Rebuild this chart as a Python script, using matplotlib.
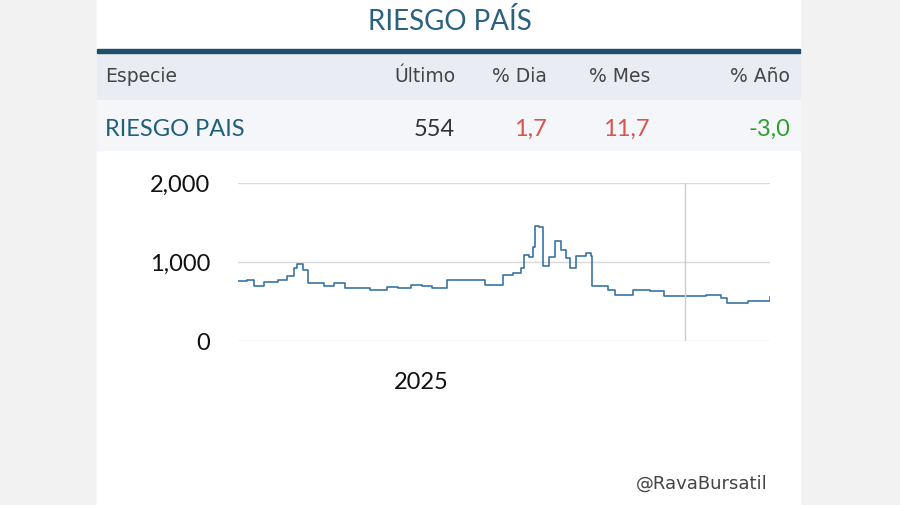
import matplotlib.pyplot as plt
import matplotlib.dates as mdates
import pandas as pd

plt.rcParams['font.family'] = ['Lato', 'DejaVu Sans']

# days counted from 2025-01-01
days = [-254, -242, -232, -218, -198, -186, -177, -172, -164, -157,
        -135, -121, -106, -72, -58, -48, -33, -14, 1, 15,
        35, 83, 88, 108, 112, 127, 137, 142, 149, 154,
        157, 163, 168, 176, 185, 193, 200, 205, 214, 227,
        234, 236, 258, 268, 292, 316, 336, 365, 394, 414,
        423, 452, 482]
values = [756, 777, 693, 743, 769, 828, 924, 975, 903, 735,
          693, 735, 672, 643, 643, 685, 672, 706, 702, 672,
          769, 769, 714, 714, 840, 861, 924, 1092, 1063, 1189,
          1450, 1441, 945, 1063, 1260, 1155, 1050, 924, 1071, 1113,
          1080, 693, 643, 588, 651, 630, 567, 567, 580, 546,
          483, 504, 555]

columns = ["Especie", "Último", "% Dia", "% Mes", "% Año"]
row = ["RIESGO PAIS", "554", "1,7", "11,7", "-3,0"]
row_colors = ["#1f5f7a", "#333333", "#d9534f", "#d9534f", "#2e9e2e"]

fig = plt.figure(figsize=(9, 5.05), dpi=100, facecolor="#f2f2f2")
W, H = 900, 505

def fx(px):
    return px / W

def fy(py):
    return 1 - py / H

# white card and table header
fig.patches.append(plt.Rectangle((fx(97), 0), fx(703), 1, transform=fig.transFigure,
                                 color="white", zorder=-3))
fig.patches.append(plt.Rectangle((fx(97), fy(100)), fx(703), 48 / H, transform=fig.transFigure,
                                 color="#e9edf3", zorder=-2))
fig.patches.append(plt.Rectangle((fx(97), fy(150)), fx(703), 50 / H, transform=fig.transFigure,
                                 color="#f4f6f9", zorder=-2))
fig.patches.append(plt.Rectangle((fx(97), fy(53)), fx(703), 4 / H, transform=fig.transFigure,
                                 color="#1d4e6b", zorder=-1))

fig.text(0.5, fy(21), "RIESGO PAÍS", ha="center", va="center", fontsize=20, color="#2a6080")

col_x = [105, 455, 547, 650, 790]
col_ha = ["left", "right", "right", "right", "right"]
for c, x, ha in zip(columns, col_x, col_ha):
    fig.text(fx(x), fy(77), c, ha=ha, va="center", fontsize=13.5, color="#444444",
             family="DejaVu Sans")
for v, x, ha, col in zip(row, col_x, col_ha, row_colors):
    fig.text(fx(x), fy(129), v, ha=ha, va="center", fontsize=17, color=col)

fig.text(fx(768), fy(484), "@RavaBursatil", ha="right", va="center", fontsize=13,
         color="#444444", family="DejaVu Sans")

base = pd.Timestamp("2025-01-01")
dates = base + pd.to_timedelta(days, unit="D")

ax = fig.add_axes([fx(238), fy(341), fx(532), 158 / H], zorder=2)
ax.plot(dates, values, color="#3a74a4", lw=1.2, drawstyle="steps-post")
ax.set_ylim(0, 2000)
ax.set_xlim(dates[0], dates[-1])
ax.set_yticks([0, 1000, 2000])
ax.set_yticklabels(["0", "1,000", "2,000"])
ax.yaxis.grid(True, color="#d9d9d9", lw=1)
ax.axvline(pd.Timestamp("2026-01-01"), color="#cccccc", lw=1)
ax.set_xticks([base])
ax.xaxis.set_major_formatter(mdates.DateFormatter("%Y"))
ax.tick_params(length=0, labelsize=17, colors="#111111")
ax.tick_params(axis="y", pad=20)
ax.tick_params(axis="x", pad=22)
for s in ax.spines.values():
    s.set_visible(False)
ax.set_facecolor("none")

fig.savefig("out.png", dpi=100, facecolor=fig.get_facecolor())
